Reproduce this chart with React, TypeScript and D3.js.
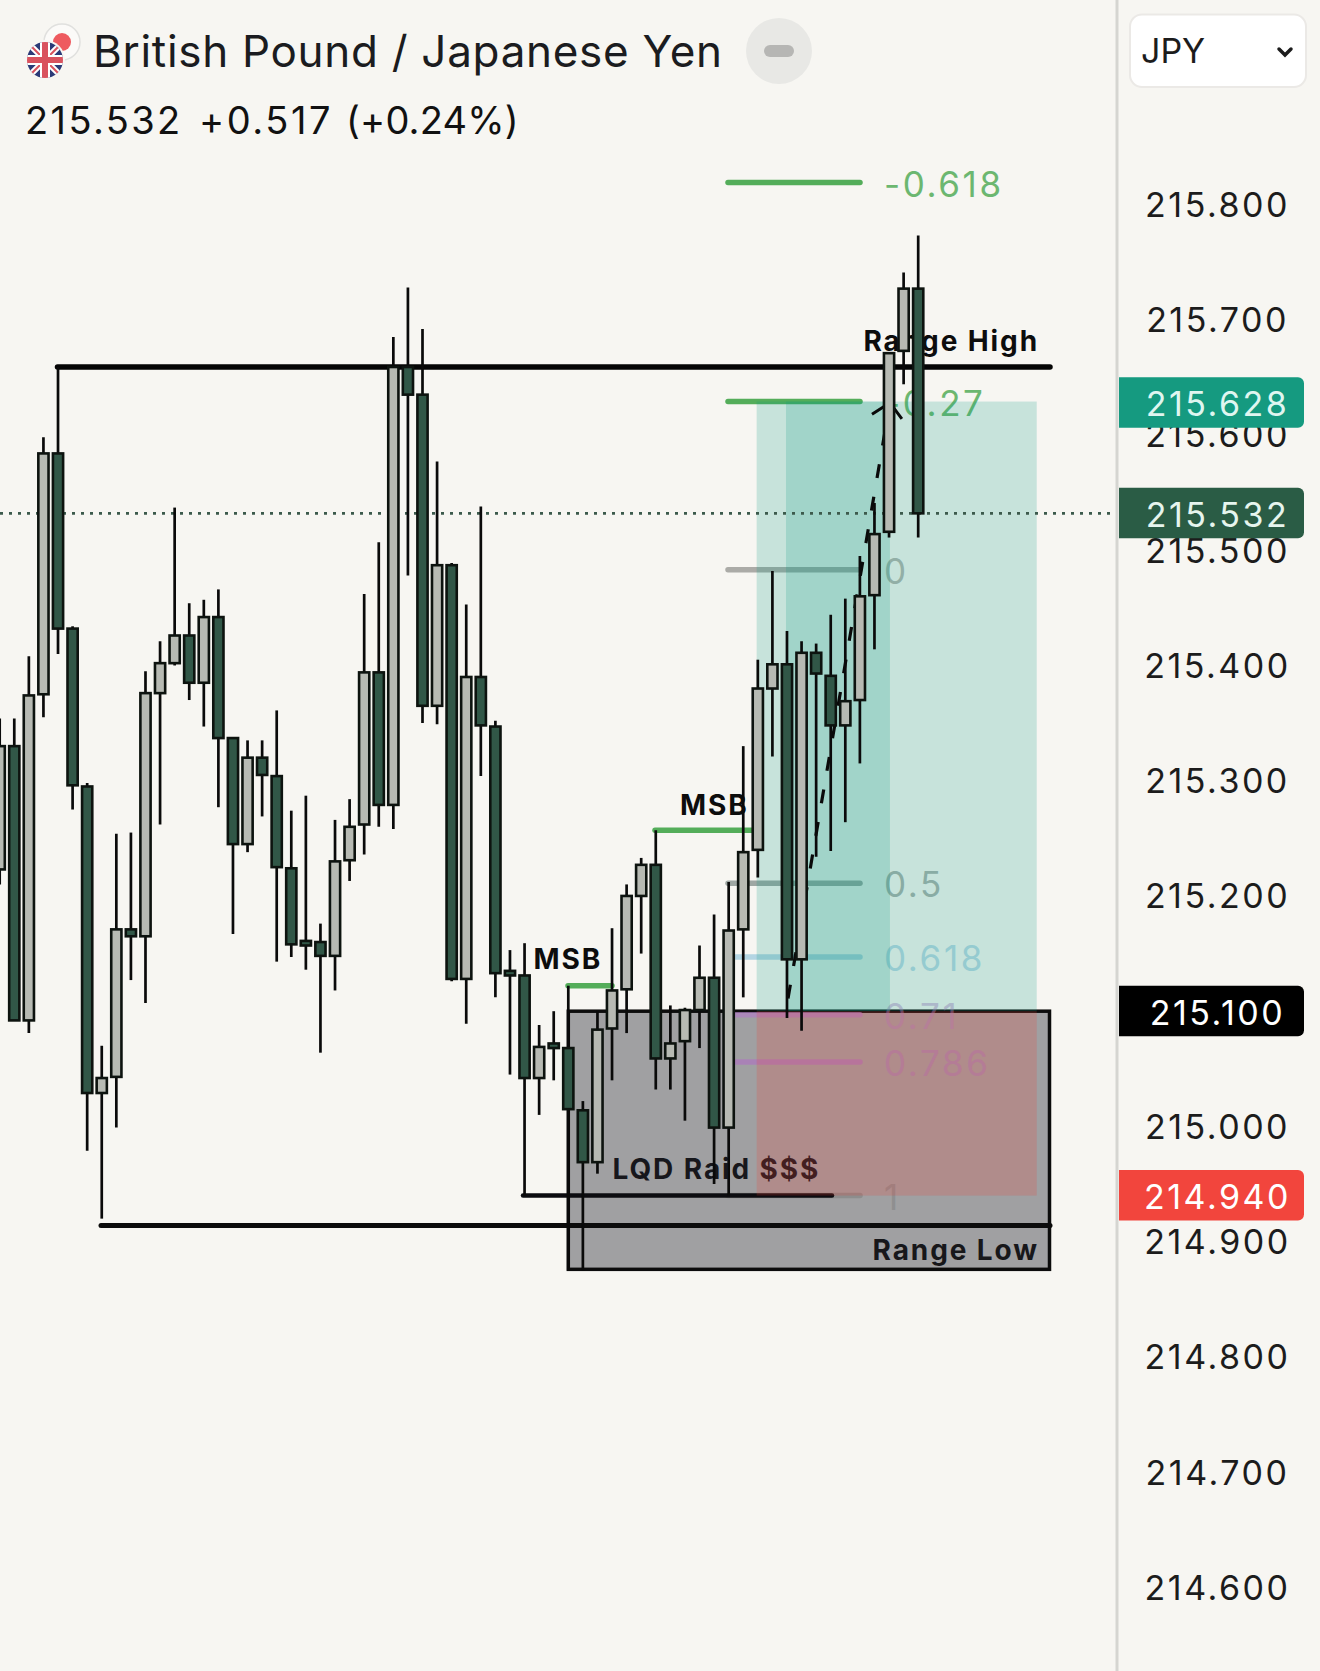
import React, { useEffect, useRef } from 'react';
import * as d3 from 'd3';

const WIDTH = 1320;
const HEIGHT = 1671;

const candleOpen = [
  215.223, 215.33, 215.092, 215.375, 215.584, 215.432, 215.295, 215.029,
  215.043, 215.171, 215.165, 215.376, 215.402, 215.426, 215.385, 215.442,
  215.337, 215.245, 215.32, 215.304, 215.224, 215.161, 215.16, 215.148,
  215.231, 215.262, 215.394, 215.279, 215.659, 215.635, 215.365, 215.487,
  215.128, 215.39, 215.347, 215.135, 215.131, 215.042, 215.072, 215.068,
  215.014, 214.969, 215.085, 215.119, 215.2, 215.227, 215.059, 215.074,
  215.101, 215.129, 214.999, 215.171, 215.24, 215.38, 215.401, 215.145,
  215.411, 215.391, 215.348, 215.37, 215.461, 215.516, 215.673, 215.727,
];
const candleClose = [
  215.33, 215.092, 215.374, 215.584, 215.432, 215.296, 215.029, 215.042,
  215.171, 215.165, 215.376, 215.402, 215.426, 215.385, 215.442, 215.337,
  215.245, 215.32, 215.305, 215.225, 215.158, 215.157, 215.148, 215.23,
  215.26, 215.394, 215.279, 215.659, 215.635, 215.365, 215.487, 215.128,
  215.39, 215.348, 215.133, 215.131, 215.042, 215.069, 215.068, 215.015,
  214.969, 215.084, 215.118, 215.2, 215.227, 215.059, 215.072, 215.101,
  215.129, 214.999, 215.17, 215.238, 215.38, 215.401, 215.145, 215.411,
  215.393, 215.348, 215.369, 215.46, 215.514, 215.671, 215.727, 215.532,
];
const candleHigh = [
  215.354, 215.354, 215.408, 215.598, 215.659, 215.434, 215.298, 215.07,
  215.254, 215.255, 215.395, 215.421, 215.537, 215.454, 215.457, 215.466,
  215.337, 215.335, 215.335, 215.361, 215.274, 215.287, 215.176, 215.266,
  215.284, 215.462, 215.507, 215.685, 215.728, 215.692, 215.577, 215.489,
  215.453, 215.538, 215.352, 215.153, 215.159, 215.088, 215.1, 215.122,
  215.022, 215.1, 215.172, 215.21, 215.233, 215.257, 215.105, 215.103,
  215.157, 215.184, 215.212, 215.33, 215.405, 215.482, 215.43, 215.421,
  215.419, 215.444, 215.458, 215.495, 215.541, 215.671, 215.741, 215.773,
];
const candleLow = [
  215.21, 215.092, 215.081, 215.355, 215.41, 215.275, 214.979, 214.92,
  214.999, 215.127, 215.107, 215.262, 215.4, 215.37, 215.347, 215.277,
  215.167, 215.238, 215.269, 215.143, 215.147, 215.136, 215.064, 215.118,
  215.213, 215.236, 215.26, 215.258, 215.478, 215.35, 215.349, 215.126,
  215.089, 215.304, 215.112, 215.045, 214.94, 215.01, 215.04, 214.875,
  214.875, 214.959, 215.04, 215.081, 215.15, 215.032, 215.032, 215.005,
  215.068, 214.95, 214.94, 215.112, 215.216, 215.321, 215.094, 215.083,
  215.234, 215.239, 215.264, 215.315, 215.414, 215.511, 215.644, 215.511,
];

const priceTicks = [215.8, 215.7, 215.6, 215.5, 215.4, 215.3, 215.2, 215.1, 215.0, 214.9, 214.8, 214.7, 214.6];

const lastPrice = 215.532;
const targetPrice = 215.628;
const entryPrice = 215.1;
const stopPrice = 214.94;
const rangeHigh = 215.659;
const rangeLow = 214.914;
const boxBottom = 214.876;
const zoneTop = 215.629;

const fibLevels = ['-0.618', '-0.27', '0', '0.5', '0.618', '0.71', '0.786', '1'];
const fibPrices = [215.819, 215.629, 215.483, 215.211, 215.147, 215.097, 215.056, 214.94];
const fibColors = ['#54ad5a', '#54ad5a', '#9e9e9a', '#8f9a96', '#8fc4dc', '#b07fc4', '#ad79bd', '#8a8a8a'];
const fibLineOpacity = [1, 1, 0.85, 0.85, 0.65, 0.7, 0.75, 0.85];
const fibTextOpacity = [0.85, 0.85, 0.75, 0.75, 0.6, 0.45, 0.5, 0.75];

const priceBadges = [
  { price: targetPrice, fill: '#159a80', text: '#dff6f0' },
  { price: lastPrice, fill: '#2a5c45', text: '#e6f5ee' },
  { price: entryPrice, fill: '#000000', text: '#ffffff' },
  { price: stopPrice, fill: '#f2453d', text: '#ffffff' },
];

const arrowPath = [[54.07, 215.111], [61.06, 215.628]];
const arrowHead = [[59.83, 215.618], [61.06, 215.628], [61.88, 215.614]];

const quoteParts = [
  { t: '215.532', x: 25, ls: 2.4 },
  { t: '+0.517', x: 199, ls: 2.6 },
  { t: '(+0.24%)', x: 346, ls: 0.2 },
];

export default function App() {
  const svgRef = useRef<SVGSVGElement>(null);

  useEffect(() => {
    if (!svgRef.current) return;
    const svg = d3.select(svgRef.current);
    svg.selectAll('*').remove();

    const x = d3.scaleLinear().domain([0, 63]).range([-0.3, 918.2]);
    const y = d3.scaleLinear().domain([215.8, 214.6]).range([204.5, 1587.4]);
    const font = 'Inter, "Noto Sans", sans-serif';

    svg.append('rect').attr('width', WIDTH).attr('height', HEIGHT).attr('fill', '#f7f6f2');

    // range box sits under everything else
    svg.append('rect')
      .attr('x', x(39)).attr('y', y(entryPrice))
      .attr('width', 1049.5 - x(39)).attr('height', y(boxBottom) - y(entryPrice))
      .attr('fill', '#a0a0a2').attr('stroke', '#0c0c0c').attr('stroke-width', 3.5);

    // fib lines and labels
    fibLevels.forEach((label, i) => {
      svg.append('line')
        .attr('x1', 728).attr('x2', 860)
        .attr('y1', y(fibPrices[i])).attr('y2', y(fibPrices[i]))
        .attr('stroke', fibColors[i]).attr('stroke-width', 5.5)
        .attr('stroke-linecap', 'round').attr('opacity', fibLineOpacity[i]);
      svg.append('text')
        .attr('x', 884).attr('y', y(fibPrices[i]) + 14)
        .attr('font-family', font).attr('font-size', 35)
        .attr('letter-spacing', 2.6)
        .attr('fill', fibColors[i]).attr('opacity', fibTextOpacity[i])
        .text(label);
    });

    // horizontal levels
    const hLines = [
      { x1: 57.5, x2: 1050, p: rangeHigh, w: 5.5, c: '#050505' },
      { x1: 101, x2: 1050, p: rangeLow, w: 5, c: '#0c0c0c' },
      { x1: 523, x2: 832, p: stopPrice, w: 4.5, c: '#0c0c10' },
      { x1: 568, x2: 612, p: 215.122, w: 5.5, c: '#54ad5a' },
      { x1: 655, x2: 752, p: 215.257, w: 5.5, c: '#54ad5a' },
    ];
    hLines.forEach(l => {
      svg.append('line')
        .attr('x1', l.x1).attr('x2', l.x2).attr('y1', y(l.p)).attr('y2', y(l.p))
        .attr('stroke', l.c).attr('stroke-width', l.w).attr('stroke-linecap', 'round');
    });

    // annotations
    const notes = [
      { t: 'MSB', x: 533.5, p: 215.137, anchor: 'start', c: '#0d0d0d' },
      { t: 'MSB', x: 680, p: 215.27, anchor: 'start', c: '#0d0d0d' },
      { t: 'Range High', x: 1039, p: 215.673, anchor: 'end', c: '#0d0d0d' },
      { t: 'Range Low', x: 1039, p: 214.884, anchor: 'end', c: '#17171a' },
      { t: 'LQD Raid $$$', x: 612.5, p: 214.954, anchor: 'start', c: '#17171c' },
    ];
    notes.forEach(n => {
      svg.append('text')
        .attr('x', n.x).attr('y', y(n.p))
        .attr('text-anchor', n.anchor)
        .attr('font-family', font).attr('font-size', 28).attr('font-weight', 700)
        .attr('letter-spacing', 1.9)
        .attr('fill', n.c)
        .text(n.t);
    });

    // position tool
    svg.append('rect')
      .attr('x', x(51.92)).attr('y', y(zoneTop))
      .attr('width', x(71.13) - x(51.92)).attr('height', y(entryPrice) - y(zoneTop))
      .attr('fill', 'rgba(8,153,129,0.2)');
    svg.append('rect')
      .attr('x', x(53.93)).attr('y', y(zoneTop))
      .attr('width', x(61.06) - x(53.93)).attr('height', y(entryPrice) - y(zoneTop))
      .attr('fill', 'rgba(8,153,129,0.2)');
    svg.append('rect')
      .attr('x', x(51.92)).attr('y', y(entryPrice))
      .attr('width', x(71.13) - x(51.92)).attr('height', y(stopPrice) - y(entryPrice))
      .attr('fill', 'rgba(242,60,50,0.2)');

    const lineGen = d3.line<number[]>().x(d => x(d[0])).y(d => y(d[1]));

    // projected move
    svg.append('path').attr('d', lineGen(arrowPath))
      .attr('fill', 'none').attr('stroke', '#0a0a0a').attr('stroke-width', 3.2)
      .attr('stroke-dasharray', '14 19');
    svg.append('path').attr('d', lineGen(arrowHead))
      .attr('fill', 'none').attr('stroke', '#0a0a0a').attr('stroke-width', 3);

    // last price line
    svg.append('line')
      .attr('x1', 0).attr('x2', 1110).attr('y1', y(lastPrice)).attr('y2', y(lastPrice))
      .attr('stroke', '#3c5a4c').attr('stroke-width', 2.8).attr('stroke-dasharray', '3 6');

    // candles
    const candles = svg.append('g').selectAll('g')
      .data(candleOpen.map((o, i) => ({ i, o, c: candleClose[i], h: candleHigh[i], l: candleLow[i] })))
      .enter()
      .append('g');

    candles.append('line')
      .attr('x1', d => x(d.i)).attr('x2', d => x(d.i))
      .attr('y1', d => y(d.h)).attr('y2', d => y(d.l))
      .attr('stroke', '#0a0a0a').attr('stroke-width', 2.7);

    candles.append('rect')
      .attr('x', d => x(d.i) - 5.1)
      .attr('y', d => y(Math.max(d.o, d.c)))
      .attr('width', 10.2)
      .attr('height', d => Math.max(1, Math.abs(y(d.o) - y(d.c))))
      .attr('fill', d => (d.c >= d.o ? '#b7bab3' : '#315747'))
      .attr('stroke', '#0d130f').attr('stroke-width', 2.6);

    // price axis
    svg.append('rect').attr('x', 1115.5).attr('y', 0).attr('width', 3).attr('height', HEIGHT).attr('fill', '#d5d5d1');

    const fmt = d3.format('.3f');
    priceTicks.forEach(p => {
      svg.append('text')
        .attr('x', 1217.5).attr('y', y(p) + 12.5)
        .attr('text-anchor', 'middle')
        .attr('font-family', font).attr('font-size', 34).attr('letter-spacing', 2.5)
        .attr('fill', '#1c1c1c')
        .text(fmt(p));
    });

    priceBadges.forEach(b => {
      const top = y(b.price) - 25.5;
      svg.append('path')
        .attr('d', `M1119,${top}H1298a6,6 0 0 1 6,6V${top + 44.5}a6,6 0 0 1 -6,6H1119Z`)
        .attr('fill', b.fill);
      svg.append('text')
        .attr('x', 1217.5).attr('y', y(b.price) + 13.5)
        .attr('text-anchor', 'middle')
        .attr('font-family', font).attr('font-size', 34).attr('letter-spacing', 2.5)
        .attr('fill', b.text)
        .text(fmt(b.price));
    });

    // currency select
    svg.append('rect')
      .attr('x', 1130).attr('y', 14.5).attr('width', 176).attr('height', 72.5).attr('rx', 12)
      .attr('fill', '#ffffff').attr('stroke', '#ebe9e6').attr('stroke-width', 2);
    svg.append('text')
      .attr('x', 1141).attr('y', 63)
      .attr('font-family', font).attr('font-size', 34).attr('fill', '#1c1c1c')
      .text('JPY');
    svg.append('path')
      .attr('d', 'M1279,49L1285,55L1291,49')
      .attr('fill', 'none').attr('stroke', '#1c1c1c').attr('stroke-width', 3.5).attr('stroke-linecap', 'round');

    // header
    svg.append('text')
      .attr('x', 93).attr('y', 67)
      .attr('font-family', font).attr('font-size', 44).attr('letter-spacing', 0.7).attr('fill', '#1b1c20')
      .text('British Pound / Japanese Yen');
    const quote = svg.append('text')
      .attr('y', 134)
      .attr('font-family', font).attr('font-size', 38).attr('fill', '#111');
    quoteParts.forEach(q => {
      quote.append('tspan').attr('x', q.x).attr('letter-spacing', q.ls).text(q.t);
    });

    svg.append('circle').attr('cx', 779).attr('cy', 51).attr('r', 33).attr('fill', '#e8e8e5');
    svg.append('rect').attr('x', 764).attr('y', 45).attr('width', 30).attr('height', 12).attr('rx', 6).attr('fill', '#b6b6b4');

    // flags
    svg.append('circle').attr('cx', 62).attr('cy', 42).attr('r', 18).attr('fill', '#fbfaf8').attr('stroke', '#e0e0de').attr('stroke-width', 1.5);
    svg.append('circle').attr('cx', 62).attr('cy', 42).attr('r', 9).attr('fill', '#ee5a5f');
    const defs = svg.append('defs');
    defs.append('clipPath').attr('id', 'uk').append('circle').attr('cx', 45).attr('cy', 60).attr('r', 18);
    svg.append('circle').attr('cx', 45).attr('cy', 60).attr('r', 20).attr('fill', '#f7f6f2');
    const uk = svg.append('g').attr('clip-path', 'url(#uk)');
    uk.append('rect').attr('x', 27).attr('y', 42).attr('width', 36).attr('height', 36).attr('fill', '#2b3a77');
    const diag = [[27, 42, 63, 78], [63, 42, 27, 78]];
    diag.forEach(d => {
      uk.append('line').attr('x1', d[0]).attr('y1', d[1]).attr('x2', d[2]).attr('y2', d[3]).attr('stroke', '#fff').attr('stroke-width', 6);
      uk.append('line').attr('x1', d[0]).attr('y1', d[1]).attr('x2', d[2]).attr('y2', d[3]).attr('stroke', '#d9525e').attr('stroke-width', 2);
    });
    uk.append('rect').attr('x', 40).attr('y', 42).attr('width', 10).attr('height', 36).attr('fill', '#fff');
    uk.append('rect').attr('x', 27).attr('y', 55).attr('width', 36).attr('height', 10).attr('fill', '#fff');
    uk.append('rect').attr('x', 42).attr('y', 42).attr('width', 6).attr('height', 36).attr('fill', '#d9525e');
    uk.append('rect').attr('x', 27).attr('y', 57).attr('width', 36).attr('height', 6).attr('fill', '#d9525e');
  }, []);

  return (
    <svg
      ref={svgRef}
      width={WIDTH}
      height={HEIGHT}
      style={{ position: 'absolute', left: 0, top: 0, display: 'block' }}
    />
  );
}
